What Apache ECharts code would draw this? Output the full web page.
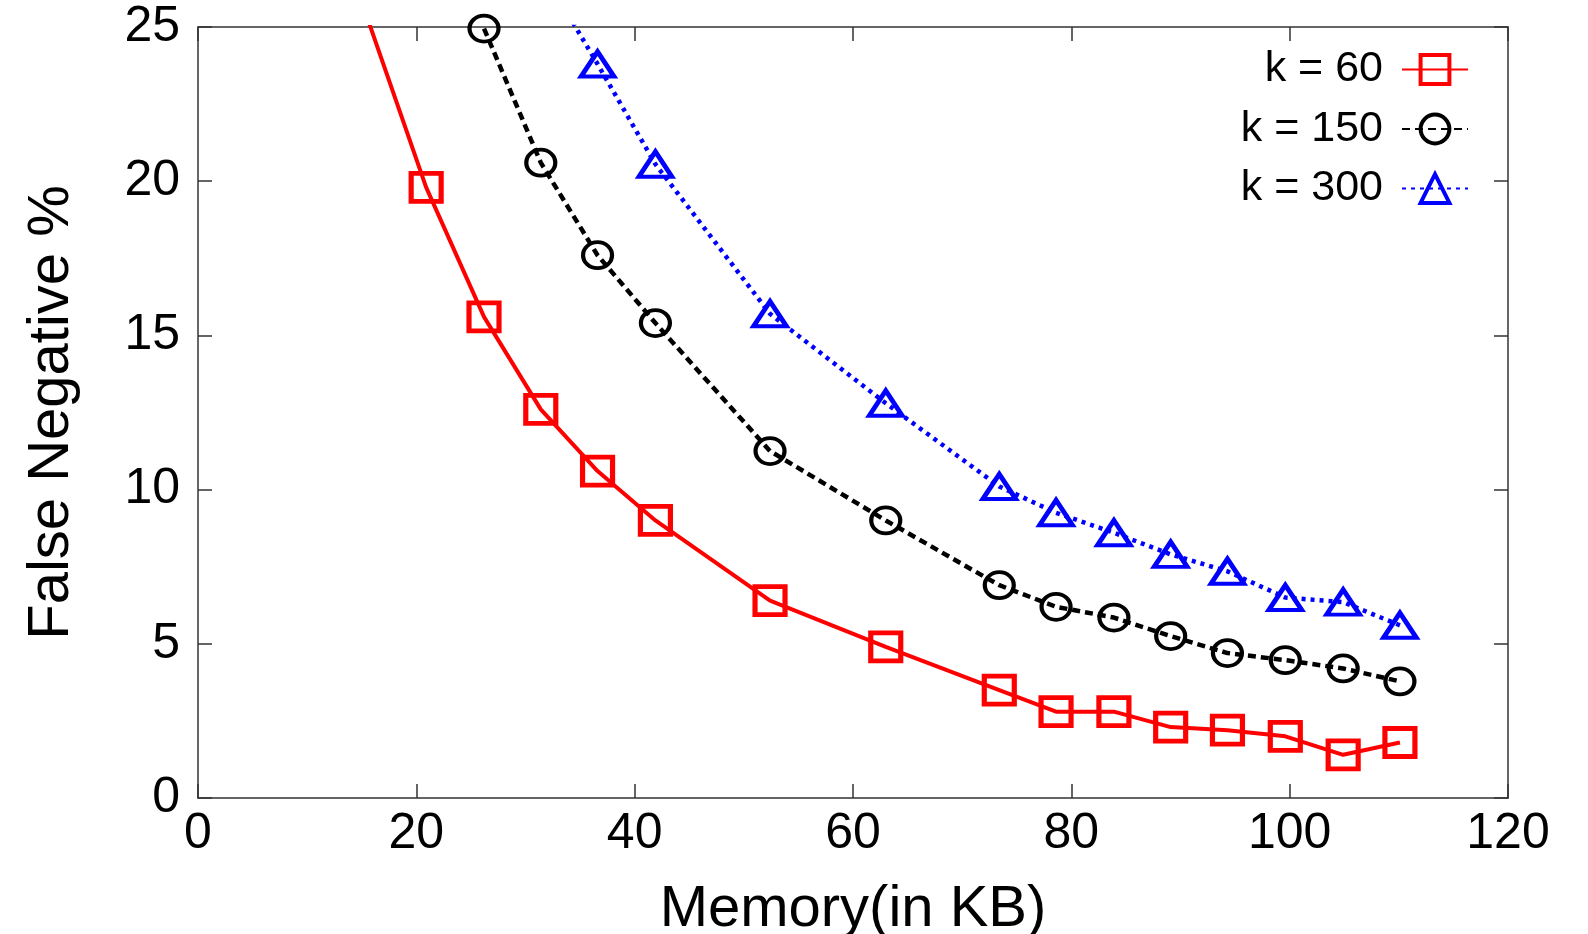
<!DOCTYPE html>
<html>
<head>
<meta charset="utf-8">
<script src="https://cdn.jsdelivr.net/npm/echarts@6/dist/echarts.min.js"></script>
<style>
  html, body { margin: 0; padding: 0; background: #fff; }
  #chart { width: 1588px; height: 934px; }
</style>
</head>
<body>
<div id="chart"></div>
<script>
// Memory (in KB) values shared by all series
const memoryKB = [10.5, 20.9, 26.2, 31.4, 36.6, 41.9, 52.4, 63.0, 73.4, 78.6, 83.9, 89.1, 94.3, 99.6, 104.9, 110.1];
// False negative % per k
const fnK60  = [30.4, 19.8, 15.6, 12.6, 10.6, 9.0, 6.4, 4.9, 3.5, 2.8, 2.8, 2.3, 2.2, 2.0, 1.4, 1.8];
const fnK150 = [null, null, 24.95, 20.6, 17.6, 15.4, 11.25, 9.0, 6.9, 6.2, 5.85, 5.25, 4.7, 4.47, 4.2, 3.78];
const fnK300 = [null, null, null, 26.9, 23.8, 20.55, 15.7, 12.8, 10.1, 9.25, 8.6, 7.9, 7.35, 6.5, 6.35, 5.6];
const seriesNames = ['k = 60', 'k = 150', 'k = 300'];
const xTicks = { min: 0, max: 120, interval: 20 };
const yTicks = { min: 0, max: 25, interval: 5 };
const xTitle = 'Memory(in KB)';
const yTitle = 'False Negative %';

function pairs(ys) {
  const out = [];
  ys.forEach((y, i) => { if (y !== null) out.push([memoryKB[i], y]); });
  return out;
}

const FONT = "'Liberation Sans', Arial, Helvetica, sans-serif";
const axisLineStyle = { color: '#333', width: 1.5 };
const tickStyle = { show: true, inside: true, length: 14, lineStyle: { color: '#333', width: 1.5 } };

const chart = echarts.init(document.getElementById('chart'), null, { renderer: 'canvas' });
chart.setOption({
  animation: false,
  backgroundColor: '#fff',
  grid: { left: 198, right: 80, top: 27, bottom: 136, containLabel: false, outerBoundsMode: 'none' },
  legend: {
    orient: 'vertical',
    align: 'right',
    right: 114,
    top: 43,
    itemWidth: 66,
    itemHeight: 36,
    itemGap: 16.5,
    itemStyle: { borderWidth: 4 },
    textStyle: { fontFamily: FONT, fontSize: 43, color: '#000', padding: [0, 14, 0, 0] },
    data: seriesNames
  },
  xAxis: [
    {
      type: 'value', position: 'bottom', min: xTicks.min, max: xTicks.max, interval: xTicks.interval,
      axisLine: { show: true, onZero: false, lineStyle: axisLineStyle },
      axisTick: tickStyle,
      splitLine: { show: false },
      axisLabel: { fontFamily: FONT, fontSize: 50, color: '#000', margin: 11 },
      name: xTitle, nameLocation: 'middle', nameGap: 83,
      nameTextStyle: { fontFamily: FONT, fontSize: 58, color: '#000' }
    },
    {
      type: 'value', position: 'top', min: xTicks.min, max: xTicks.max, interval: xTicks.interval,
      axisLine: { show: true, onZero: false, lineStyle: axisLineStyle },
      axisTick: tickStyle,
      splitLine: { show: false },
      axisLabel: { show: false }
    }
  ],
  yAxis: [
    {
      type: 'value', position: 'left', min: yTicks.min, max: yTicks.max, interval: yTicks.interval,
      axisLine: { show: true, onZero: false, lineStyle: axisLineStyle },
      axisTick: tickStyle,
      splitLine: { show: false },
      axisLabel: { fontFamily: FONT, fontSize: 50, color: '#000', margin: 18 },
      name: yTitle, nameLocation: 'middle', nameGap: 117, nameRotate: 90,
      nameTextStyle: { fontFamily: FONT, fontSize: 58, color: '#000' }
    },
    {
      type: 'value', position: 'right', min: yTicks.min, max: yTicks.max, interval: yTicks.interval,
      axisLine: { show: true, onZero: false, lineStyle: axisLineStyle },
      axisTick: tickStyle,
      splitLine: { show: false },
      axisLabel: { show: false }
    }
  ],
  series: [
    {
      name: seriesNames[0], type: 'line', xAxisIndex: 0, yAxisIndex: 0,
      data: pairs(fnK60), clip: true,
      symbol: 'rect', symbolSize: [30, 28], showAllSymbol: true,
      lineStyle: { color: '#ff0000', width: 4, type: 'solid' },
      itemStyle: { color: 'rgba(255,255,255,0)', borderColor: '#ff0000', borderWidth: 5 }
    },
    {
      name: seriesNames[1], type: 'line', xAxisIndex: 0, yAxisIndex: 0,
      data: pairs(fnK150), clip: true,
      symbol: 'circle', symbolSize: [29, 26], showAllSymbol: true,
      lineStyle: { color: '#000000', width: 4.5, type: [8, 5] },
      itemStyle: { color: 'rgba(255,255,255,0)', borderColor: '#000000', borderWidth: 4 }
    },
    {
      name: seriesNames[2], type: 'line', xAxisIndex: 0, yAxisIndex: 0,
      data: pairs(fnK300), clip: true,
      symbol: 'triangle', symbolSize: [33, 25], showAllSymbol: true,
      lineStyle: { color: '#0000ff', width: 4.5, type: [4, 5], cap: 'butt' },
      itemStyle: { color: 'rgba(255,255,255,0)', borderColor: '#0000ff', borderWidth: 4.5 }
    }
  ]
});
</script>
</body>
</html>
